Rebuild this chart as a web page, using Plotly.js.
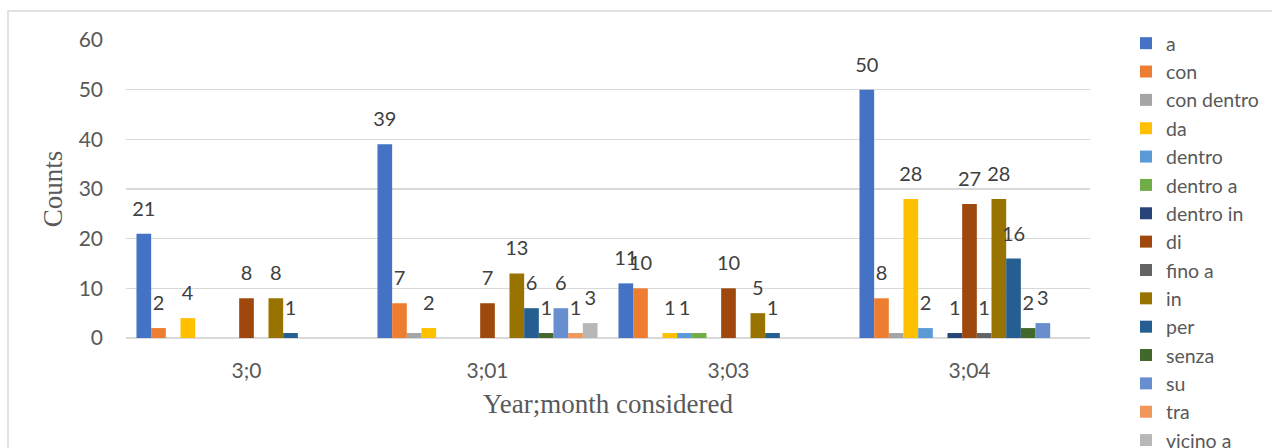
<!DOCTYPE html>
<html>
<head>
<meta charset="utf-8">
<script src="https://cdn.plot.ly/plotly-3.0.1.min.js"></script>
<style>
html,body{margin:0;padding:0;background:#fff;}
#chart{width:1272px;height:448px;}
</style>
</head>
<body>
<div id="chart"></div>
<script>
// Data
var categories = ['3;0', '3;01', '3;03', '3;04'];
var seriesNames = ['a','con','con dentro','da','dentro','dentro a','dentro in','di','fino a','in','per','senza','su','tra','vicino a'];
var a         = [21, 39, 11, 50];
var con       = [2, 7, 10, 8];
var conDentro = [null, 1, null, 1];
var da        = [4, 2, 1, 28];
var dentro    = [null, null, 1, 2];
var dentroA   = [null, null, 1, null];
var dentroIn  = [null, null, null, 1];
var di        = [8, 7, 10, 27];
var finoA     = [null, null, null, 1];
var inn       = [8, 13, 5, 28];
var per       = [1, 6, 1, 16];
var senza     = [null, 1, null, 2];
var su        = [null, 6, null, 3];
var tra       = [null, 1, null, null];
var vicinoA   = [null, 3, null, null];
var seriesValues = [a, con, conDentro, da, dentro, dentroA, dentroIn, di, finoA, inn, per, senza, su, tra, vicinoA];
var unlabeled = ['con dentro', 'dentro a'];

var colors = ['#4472C4','#ED7D31','#A5A5A5','#FFC000','#5B9BD5','#70AD47','#264478','#9E480E','#636363','#997300','#255E91','#43682B','#698ED0','#F1975A','#B7B7B7'];

var traces = seriesNames.map(function(name, i){
  var vals = seriesValues[i];
  var showLbl = unlabeled.indexOf(name) < 0;
  return {
    type: 'bar',
    name: name,
    legendgroup: 'g' + i,
    x: categories,
    y: vals,
    marker: {color: colors[i]},
    text: vals.map(function(v){ return (v === null || !showLbl) ? '' : String(v); }),
    textposition: 'outside',
    constraintext: 'none',
    cliponaxis: false,
    textfont: {family: 'Lato, sans-serif', size: 20, color: '#404040'},
    hoverinfo: 'skip'
  };
});

var layout = {
  width: 1272,
  height: 448,
  margin: {l: 126, r: 182, t: 40, b: 110},
  paper_bgcolor: '#ffffff',
  plot_bgcolor: '#ffffff',
  barmode: 'group',
  bargap: 0.087,
  bargroupgap: 0,
  showlegend: true,
  font: {family: 'Lato, sans-serif', color: '#595959'},
  xaxis: {
    type: 'category',
    showgrid: false,
    showline: false,
    ticks: '',
    ticklabelstandoff: 18,
    tickfont: {family: 'Lato, sans-serif', size: 21, color: '#595959'},
    title: {text: 'Year;month considered', font: {family: 'Liberation Serif, serif', size: 27, color: '#595959'}, standoff: 13}
  },
  yaxis: {
    range: [0, 60],
    dtick: 10,
    showgrid: true,
    gridcolor: '#D9D9D9',
    gridwidth: 1.5,
    zeroline: true,
    zerolinecolor: '#D9D9D9',
    zerolinewidth: 1.5,
    showline: false,
    ticks: '',
    ticklabelstandoff: 22,
    tickfont: {family: 'Lato, sans-serif', size: 21, color: '#595959'},
    title: {text: 'Counts', font: {family: 'Liberation Serif, serif', size: 27, color: '#595959'}, standoff: 8}
  },
  legend: {
    xref: 'container', yref: 'container',
    x: 1126/1272, xanchor: 'left',
    y: 1 - 24/448, yanchor: 'top',
    maxheight: 1000,
    font: {family: 'Lato, sans-serif', size: 19.5, color: '#595959'},
    bgcolor: 'rgba(0,0,0,0)',
    traceorder: 'grouped',
    tracegroupgap: 0
  },
  shapes: [{
    type: 'rect', xref: 'paper', yref: 'paper',
    x0: -118/964, x1: 1.4, y0: -0.6, y1: (338-11)/298,
    line: {color: '#D9D9D9', width: 1.5},
    fillcolor: 'rgba(0,0,0,0)', layer: 'below'
  }]
};

Plotly.newPlot('chart', traces, layout, {staticPlot: true}).then(function(){
  document.querySelectorAll('.bartext').forEach(function(t){
    var tr = t.getAttribute('transform') || '';
    t.setAttribute('transform', 'translate(0,-11) ' + tr);
  });
});
</script>
</body>
</html>
